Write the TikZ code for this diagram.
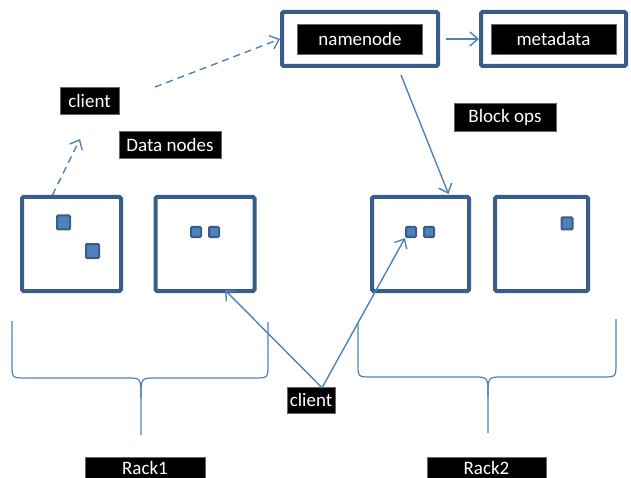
\documentclass[tikz,border=0pt]{standalone}
\usepackage{fontspec}
\setmainfont{Carlito}
\usepackage{xcolor}
\usetikzlibrary{arrows.meta, positioning}
\definecolor{boxblue}{RGB}{56,93,138}
\definecolor{lineblue}{RGB}{79,129,189}
\tikzset{
  frame/.style={
    rectangle,
    draw=boxblue,
    line width=4pt,
    rounded corners=1.5pt,
    inner sep=0pt,
  },
  tag/.style={
    rectangle,
    fill=black,
    draw=black!60,
    text=white,
    inner sep=0pt,
    font=\fontsize{19}{22}\selectfont,
  },
  blk/.style={
    rectangle,
    draw=boxblue,
    fill=lineblue,
    line width=2pt,
    rounded corners=1pt,
    inner sep=0pt,
  },
  arrow/.style={
    -{Straight Barb[length=8pt,width=14pt]},
    draw=lineblue,
    line width=1.4pt
  },
  dasharrow/.style={
    arrow,
    dash pattern=on 7pt off 5pt
  },
  brace/.style={
    draw=lineblue,
    line width=1.2pt
  }
}

\begin{document}
\begin{tikzpicture}[x=1pt, y=-1pt]
  \useasboundingbox (0,0) rectangle (631,478);

  % Name node and metadata
  \node [frame, minimum width=156pt, minimum height=54pt] (namenode) at (360,39) {};
  \node [frame, minimum width=145pt, minimum height=54pt] (metabox)  at (553.5,39) {};
  \node [tag, minimum width=125pt, minimum height=30pt] (nnlabel) at (namenode) {namenode};
  \node [tag, minimum width=125pt, minimum height=30pt] (mdlabel) at (metabox)  {metadata};

  % Labels
  \node [tag, minimum width=59pt,  minimum height=27pt] (client)  at (89.5,100.5)  {client};
  \node [tag, minimum width=102pt, minimum height=27pt] (dnlabel) at (170,144.5)   {Data nodes};
  \node [tag, minimum width=102pt, minimum height=28pt] (bolabel) at (505,117)     {Block ops};

  % Data nodes (two per rack)
  \node [frame, minimum width=99pt, minimum height=94pt] (dn1) at (71.5,244) {};
  \node [frame, minimum width=99pt, minimum height=94pt] (dn2) at (205,244)  {};
  \node [frame, minimum width=97pt, minimum height=94pt] (dn3) at (420.5,244) {};
  \node [frame, minimum width=93pt, minimum height=94pt] (dn4) at (541.5,244) {};

  % Blocks
  \node [blk, minimum width=13pt, minimum height=14pt] (b1a) at (63.5,222.5) {};
  \node [blk, minimum width=13pt, minimum height=14pt] (b1b) at (92.5,251)   {};
  \node [blk, minimum width=10pt, minimum height=10pt] (b2a) at (196,232)    {};
  \node [blk, minimum width=10pt, minimum height=10pt] (b2b) at (214,232)    {};
  \node [blk, minimum width=10pt, minimum height=10pt] (b3a) at (411,232)    {};
  \node [blk, minimum width=10pt, minimum height=10pt] (b3b) at (429,232)    {};
  \node [blk, minimum width=11pt, minimum height=12pt] (b4a) at (567,223.5)  {};

  % Client near the racks
  \node [tag, minimum width=48pt, minimum height=26pt] (client2) at (311,400) {client};

  % Racks
  \node [tag, minimum width=120pt, minimum height=21pt] (rack1) at (145,467.5) {Rack1};
  \node [tag, minimum width=119pt, minimum height=21pt] (rack2) at (486.5,467.5) {Rack2};

  % Rack braces
  \draw [brace] (12,321) -- (12,364) .. controls (12,378) .. (26,378) -- (127,378)
        .. controls (141,378) .. (141,398) -- (141,435);
  \draw [brace] (141,398) .. controls (141,378) .. (155,378) -- (254,378)
        .. controls (268,378) .. (268,364) -- (268,322);
  \draw [brace] (358,323) -- (358,364) .. controls (358,377) .. (372,377) -- (474,377)
        .. controls (488,377) .. (488,397) -- (488,433);
  \draw [brace] (488,397) .. controls (488,377) .. (502,377) -- (603,377)
        .. controls (616,377) .. (616,362) -- (616,319);

  % Client connections
  \coordinate (cstart) at (155,87);
  \coordinate (apex)   at ([xshift=11pt, yshift=-1pt]client2.north);
  \draw [dasharrow] (cstart) -- (namenode.west);
  \draw [dasharrow] (dn1.north) ++(-19pt,0) coordinate (dnup) -- (80,139);
  \draw [arrow] (apex) -- ([xshift=20pt, yshift=3pt]dn2.south);
  \draw [arrow] (apex) -- (b3a.south west);

  % Name node operations
  \draw [arrow] (namenode.east) ++(6pt,0) -- (metabox.west);
  \draw [arrow] ([xshift=41pt, yshift=-7pt]namenode.south) -- ([xshift=28pt, yshift=1pt]dn3.north);
\end{tikzpicture}
\end{document}
